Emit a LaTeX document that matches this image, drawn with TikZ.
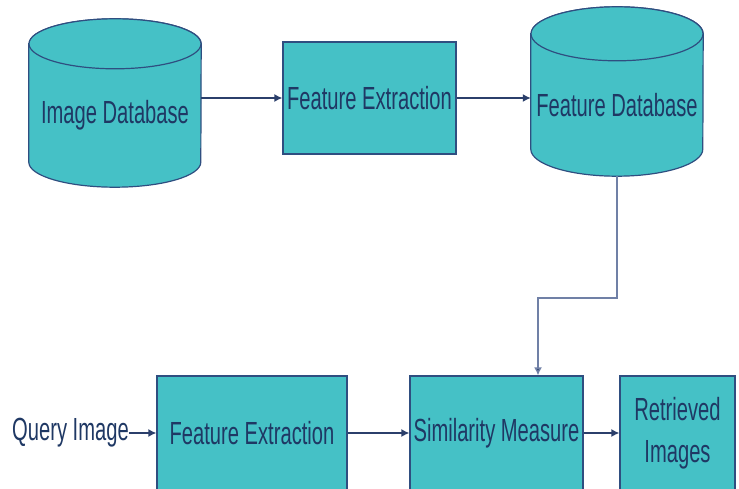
\documentclass[tikz,border=0pt]{standalone}
\usepackage{fontspec}
\newfontfamily\diagfont[FakeStretch=0.63]{Liberation Sans}
\usepackage{tikz}
\usetikzlibrary{positioning,arrows.meta,calc,backgrounds}
\definecolor{cbirfill}{HTML}{45C1C6}
\definecolor{cbirline}{HTML}{2F4E80}
\definecolor{cbirtext}{HTML}{1F3864}
\definecolor{cbirarrow}{HTML}{2B3F6B}
\definecolor{cbirlink}{HTML}{7080A6}
\begin{document}
\begin{tikzpicture}[x=1pt,y=1pt]
  \tikzstyle{lbl}=[text=cbirtext,font=\diagfont\fontsize{32}{42}\selectfont,inner sep=0pt,align=center]
  \tikzstyle{proc}=[lbl,draw=cbirline,fill=cbirfill,line width=1.2pt]
  \tikzstyle{dbbody}=[lbl,minimum width=172pt]
  \tikzstyle{dbshape}=[draw=cbirline,fill=cbirfill,line width=1.2pt]
  \tikzstyle{ed}=[draw=cbirarrow,line width=1.5pt,-{Latex[length=8pt,width=8pt]}]
  \tikzstyle{lk}=[draw=cbirlink,line width=1.5pt,-{Latex[length=8pt,width=8pt,fill=cbirarrow]}]
  \useasboundingbox (0,0) rectangle (739,488);
  % top row
  \node [dbbody,minimum height=143pt] (imgdb) at (115,372.5) {Image Database};
  \node [proc,minimum width=173pt,minimum height=112pt] (fext) at (369.5,390) {Feature Extraction};
  \node [dbbody,minimum height=142pt] (fdb) at (617,383) {Feature Database};
  % bottom row
  \node [lbl] (query) at (70.5,55) {Query Image};
  \node [proc,minimum width=190pt,minimum height=114pt] (fextq) at (252,55) {Feature Extraction};
  \node [proc,minimum width=173pt,minimum height=114pt] (sim) at (496.5,55) {Similarity Measure};
  \node [proc,minimum width=115pt,minimum height=114pt] (ret) at (677.5,55) {Retrieved\\Images};
  \coordinate (turn) at (538,190);
  \begin{scope}[on background layer]
  \path [dbshape] (imgdb.north west) -- ([yshift=25pt]imgdb.south west)
    arc [start angle=180,end angle=360,x radius=86pt,y radius=25pt] -- (imgdb.north east)
    arc [start angle=0,end angle=180,x radius=86pt,y radius=25pt] -- cycle;
  \path [dbshape] (imgdb.north) ellipse [x radius=86pt,y radius=25pt];
  \path [dbshape] (fdb.north west) -- ([yshift=27pt]fdb.south west)
    arc [start angle=180,end angle=360,x radius=86pt,y radius=27pt] -- (fdb.north east)
    arc [start angle=0,end angle=180,x radius=86pt,y radius=27pt] -- cycle;
  \path [dbshape] (fdb.north) ellipse [x radius=86pt,y radius=27pt];
  \end{scope}
  \draw [ed] (fext.west -| imgdb.east) -- (fext.west);
  \draw [ed] (fext.east) -- (fext.east -| fdb.west);
  \draw [lk] (fdb.south) |- (turn) -- (turn |- sim.north);
  \draw [ed] (query) -- (fextq);
  \draw [ed] (fextq) -- (sim);
  \draw [ed] (sim) -- (ret);
\end{tikzpicture}
\end{document}
